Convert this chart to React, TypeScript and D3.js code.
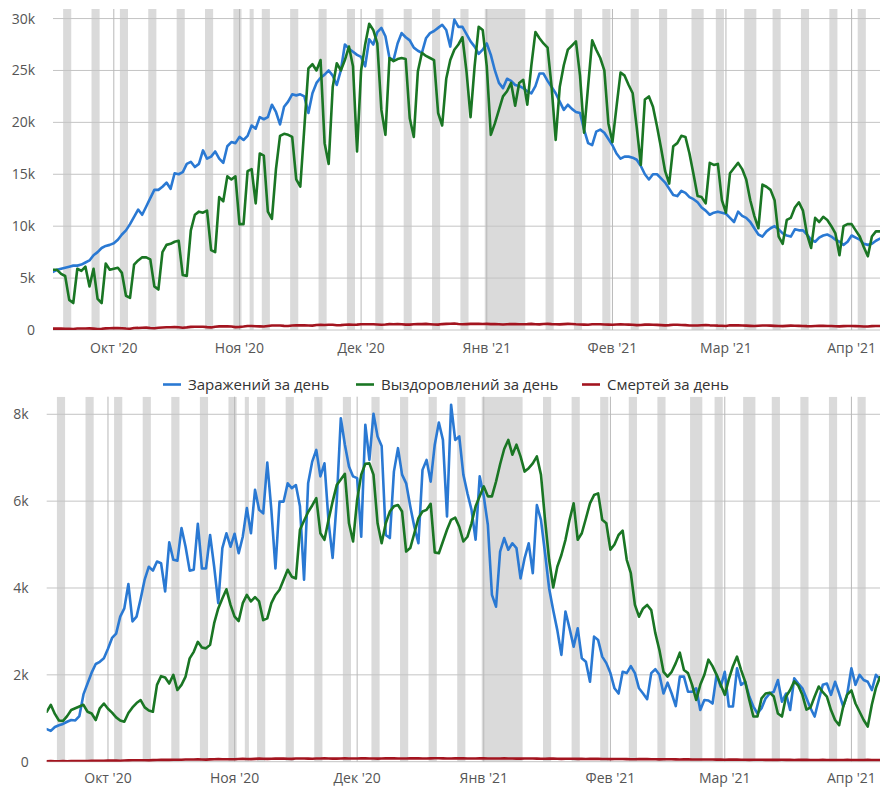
import React from "react";
import * as d3 from "d3";

// ---------- DATA (values in thousands) ----------
const START = Date.UTC(2020, 8, 16); // 16 Sep 2020
const DAY = 86400000;

const monthTickDates = ["2020-10-01", "2020-11-01", "2020-12-01", "2021-01-01", "2021-02-01", "2021-03-01", "2021-04-01"];
const monthTickLabels = ["Окт '20", "Ноя '20", "Дек '20", "Янв '21", "Фев '21", "Мар '21", "Апр '21"];

const seriesNames = ["Заражений за день", "Выздоровлений за день", "Смертей за день"];
const seriesColors = ["#2a79d3", "#1a7624", "#a3141f"];

const topTicks = [0, 5, 10, 15, 20, 25, 30];
const bottomTicks = [0, 2, 4, 6, 8];

// Russia
const topInfections = [
  5.6, 5.8, 5.9, 6.0, 6.1, 6.2, 6.2, 6.3, 6.5, 6.7,
  7.2, 7.5, 7.9, 8.1, 8.2, 8.35, 8.7, 9.2, 9.6, 10.2,
  10.9, 11.6, 11.1, 11.9, 12.7, 13.5, 13.5, 13.8, 14.2, 13.6,
  15.1, 15.0, 15.2, 16.0, 16.2, 15.7, 16.0, 17.3, 16.5, 16.7,
  17.2, 16.5, 16.1, 17.7, 18.1, 18.0, 18.6, 18.3, 18.7, 19.7,
  19.4, 20.5, 20.3, 20.5, 21.7, 21.0, 19.8, 21.5, 22.0, 22.7,
  22.6, 22.7, 22.5, 20.9, 22.8, 23.8, 24.3, 24.6, 25.0, 24.5,
  23.6, 25.0, 27.5, 27.1, 26.8, 26.5, 26.3, 25.4, 28.0, 27.5,
  28.7, 29.1, 28.3, 26.2, 26.0, 27.6, 28.6, 28.2, 27.9, 27.2,
  26.9, 26.7, 28.1, 28.6, 28.8, 29.1, 29.4, 28.9, 27.3, 29.9,
  29.2, 29.2, 28.5, 27.8, 27.3, 26.6, 27.0, 27.6, 26.5, 25.0,
  23.8, 23.3, 24.2, 24.0, 23.6, 23.5, 23.3, 23.0, 22.8, 23.5,
  24.7, 24.7, 24.0, 23.4, 22.8, 22.0, 21.2, 21.7, 21.3, 21.0,
  20.9, 19.3, 18.0, 17.8, 19.1, 19.3, 19.0, 18.4, 17.8, 17.0,
  16.5, 16.7, 16.7, 16.6, 16.4, 15.8, 15.0, 14.5, 15.0, 15.0,
  14.6, 14.2, 13.6, 13.0, 12.9, 13.4, 13.2, 12.8, 12.6, 12.3,
  11.8, 11.5, 11.1, 11.3, 11.4, 11.3, 11.2, 10.8, 10.4, 11.4,
  11.0, 10.8, 10.4, 9.8, 9.2, 9.0, 9.5, 9.8, 10.0, 9.7,
  9.3, 9.1, 9.0, 9.7, 9.6, 9.6, 9.2, 8.7, 8.5, 8.9,
  9.1, 9.2, 9.0, 8.7, 8.5, 8.2, 8.5, 9.1, 8.9, 8.7,
  8.3, 8.2, 8.3, 8.6, 8.8,
];
const topRecoveries = [
  5.8, 5.8, 5.4, 5.2, 2.9, 2.6, 5.9, 5.7, 6.1, 4.2,
  5.9, 3.0, 2.6, 6.4, 5.8, 5.9, 6.0, 5.5, 3.3, 3.1,
  6.3, 6.7, 7.0, 7.0, 6.8, 4.2, 3.9, 7.5, 8.2, 8.3,
  8.5, 8.6, 5.3, 5.2, 9.6, 11.1, 11.4, 11.3, 11.5, 7.7,
  7.5, 12.8, 12.4, 14.8, 14.5, 14.8, 10.2, 10.2, 15.3, 15.5,
  12.2, 17.0, 16.8, 11.4, 10.7, 15.5, 18.7, 18.9, 18.8, 18.6,
  14.5, 13.8, 19.5, 25.2, 25.6, 25.0, 26.0, 18.0, 16.0, 23.4,
  25.7, 25.0, 26.0, 27.3, 25.4, 17.2, 25.0, 27.5, 29.5, 28.9,
  27.6, 21.2, 18.8, 26.2, 25.9, 26.1, 26.2, 26.1, 20.4, 18.6,
  24.9, 26.7, 26.4, 26.2, 26.0, 20.9, 19.7, 24.2, 26.0, 27.0,
  27.5, 28.2, 24.9, 20.5, 25.4, 29.2, 28.9, 25.4, 18.8, 19.9,
  21.2, 22.5, 23.0, 23.8, 21.6, 23.8, 24.1, 21.7, 25.5, 28.7,
  28.1, 27.6, 27.2, 23.4, 18.3, 23.4, 25.5, 27.0, 27.4, 27.8,
  24.5, 19.0, 23.5, 27.9, 27.0, 26.2, 25.0, 19.9, 18.1, 21.5,
  24.8, 24.5, 23.6, 22.8, 19.5, 15.9, 22.2, 22.5, 21.5, 19.6,
  17.5, 15.3, 14.1, 17.7, 18.0, 18.7, 18.6, 17.0, 15.0, 12.9,
  12.8, 12.2, 16.1, 15.9, 16.0, 12.5, 11.3, 15.1, 15.6, 16.1,
  15.5, 14.5, 12.5, 11.0, 9.8, 14.0, 13.8, 13.5, 12.5, 9.0,
  8.3, 10.6, 10.8, 11.8, 12.3, 11.5, 9.2, 7.9, 10.8, 10.4,
  10.9, 10.6, 10.0, 9.3, 7.2, 10.0, 10.2, 10.2, 9.6, 9.0,
  8.0, 7.1, 9.0, 9.5, 9.5,
];
const topDeaths = [
  0.13, 0.14, 0.13, 0.12, 0.11, 0.10, 0.15, 0.14, 0.15, 0.16, 0.13, 0.10, 0.12, 0.16, 0.17,
  0.18, 0.18, 0.17, 0.14, 0.12, 0.19, 0.20, 0.22, 0.23, 0.19, 0.17, 0.21, 0.24, 0.26, 0.27, 0.29,
  0.26, 0.22, 0.25, 0.30, 0.32, 0.31, 0.32, 0.28, 0.25, 0.32, 0.35, 0.36, 0.35, 0.33, 0.28,
  0.30, 0.34, 0.39, 0.39, 0.36, 0.35, 0.33, 0.38, 0.43, 0.44, 0.43, 0.40, 0.39, 0.44, 0.46,
  0.45, 0.46, 0.44, 0.42, 0.48, 0.49, 0.48, 0.51, 0.50, 0.46, 0.47, 0.50, 0.53, 0.51, 0.52,
  0.55, 0.56, 0.56, 0.55, 0.53, 0.50, 0.53, 0.57, 0.56, 0.57, 0.56, 0.52, 0.52, 0.55, 0.58,
  0.57, 0.59, 0.56, 0.53, 0.52, 0.57, 0.59, 0.60, 0.63, 0.58, 0.55, 0.57, 0.59, 0.60, 0.59, 0.58,
  0.59, 0.57, 0.57, 0.55, 0.53, 0.56, 0.57, 0.58, 0.56, 0.56, 0.57, 0.59, 0.56, 0.54, 0.58,
  0.59, 0.57, 0.56, 0.54, 0.57, 0.59, 0.58, 0.55, 0.53, 0.52, 0.51, 0.55, 0.56, 0.55, 0.53, 0.52,
  0.50, 0.53, 0.55, 0.53, 0.52, 0.50, 0.47, 0.48, 0.52, 0.53, 0.50, 0.49, 0.47, 0.45,
  0.47, 0.51, 0.50, 0.48, 0.47, 0.44, 0.43, 0.44, 0.46, 0.48, 0.45, 0.44, 0.42, 0.41,
  0.39, 0.45, 0.46, 0.45, 0.44, 0.42, 0.40, 0.38, 0.41, 0.44, 0.43, 0.42, 0.40, 0.38, 0.37,
  0.40, 0.42, 0.41, 0.40, 0.39, 0.37, 0.36, 0.39, 0.40, 0.40, 0.39, 0.38, 0.36, 0.35, 0.37, 0.38,
  0.38, 0.37, 0.36, 0.34, 0.33, 0.37, 0.38, 0.38,
];

// Moscow
const bottomInfections = [
  0.75, 0.71, 0.80, 0.84, 0.87, 0.92, 0.96, 0.95, 1.05, 1.55,
  1.80, 2.05, 2.25, 2.30, 2.38, 2.60, 2.85, 2.95, 3.34, 3.53,
  4.09, 3.23, 3.34, 3.75, 4.20, 4.49, 4.40, 4.61, 4.57, 3.92,
  5.05, 4.65, 4.63, 5.38, 4.95, 4.40, 4.42, 5.48, 4.45, 4.45,
  5.22, 4.49, 3.65, 4.92, 5.26, 4.95, 5.25, 4.80, 5.18, 5.84,
  5.26, 6.26, 5.80, 5.72, 6.89, 5.80, 4.45, 5.99, 5.99, 6.41,
  6.30, 6.37, 5.88, 4.19, 6.41, 6.91, 7.18, 6.57, 6.87, 5.53,
  4.69, 5.99, 7.91, 7.30, 6.80, 6.57, 6.53, 5.18, 7.76, 6.95,
  8.01, 7.49, 7.27, 5.22, 5.15, 6.68, 7.22, 6.61, 6.41, 5.88,
  5.41, 5.03, 6.72, 6.95, 6.45, 7.30, 7.81, 7.41, 5.65, 8.22,
  7.41, 7.49, 6.61, 6.18, 5.80, 5.11, 6.57, 6.11, 5.45, 3.84,
  3.57, 4.84, 5.15, 4.88, 5.03, 4.92, 4.22, 4.69, 5.03, 4.34,
  5.91, 5.57, 4.80, 3.99, 3.49, 3.03, 2.46, 3.46, 3.07, 2.65,
  3.07, 2.38, 2.30, 1.84, 2.88, 2.80, 2.42, 2.27, 2.04, 1.69,
  1.57, 2.07, 2.04, 2.20, 2.04, 1.69, 1.57, 1.44, 2.04, 2.13,
  2.00, 1.57, 1.82, 1.57, 1.28, 1.96, 1.96, 1.61, 1.61, 1.69,
  1.19, 1.42, 1.41, 1.34, 2.00, 1.73, 2.07, 1.27, 1.27, 2.15,
  1.77, 1.84, 1.50, 1.27, 1.11, 1.23, 1.46, 1.57, 1.61, 1.88,
  1.38, 1.57, 1.19, 1.92, 1.80, 1.69, 1.46, 1.23, 1.04, 1.42,
  1.77, 1.80, 1.54, 1.84, 1.57, 1.27, 1.57, 2.15, 1.77, 2.00,
  1.88, 1.84, 1.65, 2.00, 1.90,
];
const bottomRecoveries = [
  1.15, 1.31, 1.10, 0.95, 0.94, 1.05, 1.19, 1.23, 1.27, 1.31,
  1.15, 1.11, 0.96, 1.23, 1.34, 1.22, 1.13, 1.02, 0.95, 0.92,
  1.12, 1.25, 1.35, 1.42, 1.25, 1.18, 1.15, 1.77, 1.97, 1.94,
  1.80, 2.00, 1.65, 1.77, 1.96, 2.38, 2.53, 2.76, 2.63, 2.61,
  2.69, 3.19, 3.53, 3.76, 3.97, 3.61, 3.34, 3.24, 3.65, 3.84,
  3.69, 3.79, 3.69, 3.26, 3.30, 3.65, 3.84, 3.96, 4.19, 4.42,
  4.26, 4.22, 5.34, 5.55, 5.75, 5.90, 6.07, 5.26, 5.11, 5.57,
  5.99, 6.37, 6.50, 6.63, 5.49, 5.07, 6.03, 6.61, 6.86, 6.87,
  6.61, 5.49, 5.03, 5.49, 5.76, 5.88, 5.91, 5.76, 4.84, 4.92,
  5.26, 5.61, 5.76, 5.80, 5.94, 4.82, 4.80, 5.07, 5.34, 5.57,
  5.62, 5.41, 5.07, 5.18, 5.49, 5.88, 6.11, 6.34, 6.11, 6.11,
  6.45, 6.85, 7.20, 7.41, 7.07, 7.30, 7.03, 6.68, 6.76, 6.87,
  7.03, 6.61, 5.57, 4.65, 4.01, 4.49, 4.76, 5.11, 5.57, 5.95,
  5.11, 5.26, 5.60, 5.95, 6.14, 6.18, 5.57, 5.49, 4.88, 5.00,
  5.22, 5.32, 4.65, 4.34, 3.61, 3.34, 3.53, 3.61, 3.49, 2.96,
  2.57, 2.07, 1.96, 2.07, 2.27, 2.51, 2.11, 2.04, 1.77, 1.42,
  1.77, 2.00, 2.35, 2.20, 2.00, 1.77, 1.54, 1.90, 2.20, 2.42,
  2.11, 1.84, 1.42, 1.04, 1.04, 1.46, 1.57, 1.59, 1.50, 1.11,
  1.04, 1.50, 1.65, 1.85, 1.75, 1.54, 1.20, 1.25, 1.50, 1.73,
  1.60, 1.50, 1.19, 0.96, 0.84, 1.27, 1.55, 1.64, 1.34, 1.15,
  0.96, 0.81, 1.31, 1.70, 1.95,
];
const bottomDeaths = [
  0.012, 0.013, 0.011, 0.012, 0.014, 0.010, 0.015, 0.016, 0.017, 0.015, 0.014, 0.018, 0.020, 0.022, 0.021,
  0.024, 0.026, 0.025, 0.023, 0.028, 0.030, 0.033, 0.032, 0.035, 0.034, 0.031, 0.036, 0.040, 0.042, 0.041, 0.043,
  0.045, 0.044, 0.046, 0.050, 0.052, 0.051, 0.053, 0.049, 0.048, 0.054, 0.058, 0.060, 0.057, 0.055, 0.056,
  0.058, 0.062, 0.065, 0.063, 0.060, 0.066, 0.070, 0.068, 0.065, 0.067, 0.071, 0.073, 0.070, 0.068, 0.066,
  0.072, 0.074, 0.073, 0.071, 0.069, 0.072, 0.075, 0.076, 0.073, 0.071, 0.070, 0.074, 0.076, 0.075, 0.073,
  0.074, 0.076, 0.077, 0.075, 0.072, 0.071, 0.074, 0.077, 0.078, 0.076, 0.073, 0.072, 0.075, 0.078, 0.077,
  0.076, 0.074, 0.073, 0.076, 0.078, 0.079, 0.077, 0.075, 0.074, 0.076, 0.078, 0.077, 0.075, 0.073, 0.074, 0.076,
  0.077, 0.075, 0.073, 0.072, 0.074, 0.076, 0.075, 0.073, 0.071, 0.070, 0.073, 0.074, 0.072, 0.070, 0.068,
  0.069, 0.071, 0.070, 0.068, 0.066, 0.067, 0.069, 0.068, 0.066, 0.064, 0.063, 0.065, 0.066, 0.064, 0.062, 0.061,
  0.060, 0.062, 0.063, 0.061, 0.059, 0.057, 0.058, 0.060, 0.061, 0.059, 0.057, 0.055, 0.054, 0.056,
  0.057, 0.055, 0.053, 0.052, 0.053, 0.054, 0.052, 0.050, 0.049, 0.051, 0.052, 0.050, 0.048, 0.047,
  0.046, 0.048, 0.049, 0.047, 0.046, 0.044, 0.043, 0.045, 0.046, 0.045, 0.043, 0.042, 0.041, 0.043, 0.044,
  0.043, 0.042, 0.040, 0.041, 0.042, 0.041, 0.040, 0.039, 0.040, 0.041, 0.040, 0.039, 0.038, 0.039, 0.040, 0.041,
  0.040, 0.039, 0.038, 0.040, 0.041, 0.040, 0.039, 0.040,
];

// non-working days (besides Sat/Sun) and working Saturdays
const extraDaysOff = [
  "2020-11-04", "2021-01-01", "2021-01-04", "2021-01-05", "2021-01-06", "2021-01-07", "2021-01-08",
  "2021-02-22", "2021-02-23", "2021-03-08",
];
const workingWeekendDays = ["2021-02-20"];

// ---------- helpers ----------
const N = topInfections.length;
const dates = d3.range(N).map((i) => new Date(START + i * DAY));
const parse = (s: string) => new Date(s + "T00:00:00Z");
const offSet = new Set(extraDaysOff);
const workSet = new Set(workingWeekendDays);
const iso = d3.utcFormat("%Y-%m-%d");

function computeBands(): [Date, Date][] {
  const bands: [Date, Date][] = [];
  let runStart: Date | null = null;
  let prev: Date | null = null;
  for (let i = -2; i < N + 3; i++) {
    const dt = new Date(START + i * DAY);
    const wd = dt.getUTCDay();
    const key = iso(dt);
    const off = ((wd === 0 || wd === 6) && !workSet.has(key)) || offSet.has(key);
    if (off) {
      if (!runStart) runStart = dt;
      prev = dt;
    } else if (runStart && prev) {
      bands.push([runStart, prev]);
      runStart = null;
    }
  }
  return bands;
}
const bands = computeBands();

const FONT = "'Open Sans', 'DejaVu Sans', sans-serif";
const RIGHT = 880;

type PanelProps = {
  top: number;
  bottom: number;
  left: number;
  yMax: number;
  ticks: number[];
  series: number[][];
  labelOffset: number;
};

function Panel({ top, bottom, left, yMax, ticks, series, labelOffset }: PanelProps) {
  const x = d3.scaleUtc().domain([dates[0], dates[N - 1]]).range([left, RIGHT]);
  const y = d3.scaleLinear().domain([0, yMax]).range([bottom, top]);
  const line = d3
    .line<number>()
    .x((_, i) => x(dates[i]))
    .y((v) => y(v));
  const half = DAY / 2;
  return (
    <g>
      <defs>
        <clipPath id={`clip-${Math.round(top)}`}>
          <rect x={left} y={top} width={RIGHT - left} height={bottom - top} />
        </clipPath>
      </defs>
      <g clipPath={`url(#clip-${Math.round(top)})`}>
        {bands.map(([a, b], i) => {
          const x0 = x(new Date(+a - half));
          const x1 = x(new Date(+b + half));
          return <rect key={i} x={x0} y={top} width={x1 - x0} height={bottom - top} fill="#dadada" />;
        })}
      </g>
      {ticks.map((t) => (
        <g key={t}>
          <line x1={left} x2={RIGHT} y1={y(t)} y2={y(t)} stroke="#c4c4c4" strokeWidth={1} />
          <text x={left - 18} y={y(t) + 5} textAnchor="end" fontSize={14} fill="#555" fontFamily={FONT}>
            {t === 0 ? "0" : `${t}k`}
          </text>
        </g>
      ))}
      {monthTickDates.map((s, i) => {
        const xx = x(parse(s));
        return (
          <g key={s}>
            <line x1={xx} x2={xx} y1={top} y2={bottom} stroke="#b8b8b8" strokeWidth={1} />
            <text x={xx} y={bottom + labelOffset} textAnchor="middle" fontSize={14} fill="#555" fontFamily={FONT}>
              {monthTickLabels[i]}
            </text>
          </g>
        );
      })}
      <g clipPath={`url(#clip-${Math.round(top)})`}>
        {series.map((s, i) => (
          <path
            key={i}
            d={line(s) || ""}
            fill="none"
            stroke={seriesColors[i]}
            strokeWidth={2.6}
            strokeLinejoin="round"
            strokeLinecap="round"
          />
        ))}
      </g>
    </g>
  );
}

function Legend() {
  const items = [
    { x: 163, label: seriesNames[0], color: seriesColors[0] },
    { x: 356, label: seriesNames[1], color: seriesColors[1] },
    { x: 582, label: seriesNames[2], color: seriesColors[2] },
  ];
  return (
    <g>
      {items.map((it) => (
        <g key={it.label}>
          <line x1={it.x} x2={it.x + 18} y1={384.5} y2={384.5} stroke={it.color} strokeWidth={2.6} />
          <text x={it.x + 25} y={389.5} fontSize={15} fill="#333" fontFamily={FONT}>
            {it.label}
          </text>
        </g>
      ))}
    </g>
  );
}

export default function App() {
  return (
    <svg
      width={880}
      height={787}
      style={{ position: "absolute", left: 0, top: 0, background: "#fff" }}
    >
      <rect width={880} height={787} fill="#fff" />
      <Panel
        top={9}
        bottom={330}
        left={53}
        yMax={30.92}
        ticks={topTicks}
        series={[topInfections, topRecoveries, topDeaths]}
        labelOffset={23}
      />
      <Legend />
      <Panel
        top={396.7}
        bottom={761.7}
        left={46.7}
        yMax={8.405}
        ticks={bottomTicks}
        series={[bottomInfections, bottomRecoveries, bottomDeaths]}
        labelOffset={21}
      />
    </svg>
  );
}
